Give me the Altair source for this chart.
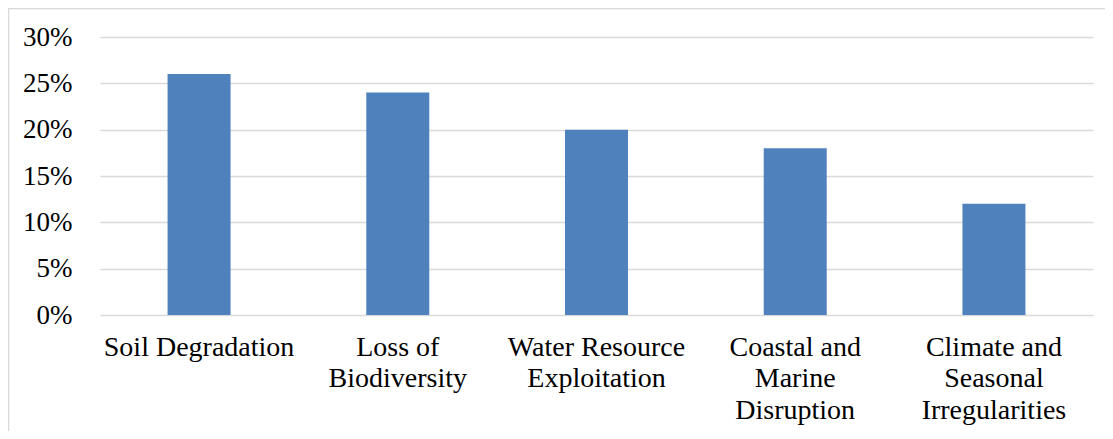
import altair as alt
import pandas as pd

categories = ["Soil Degradation", "Loss of|Biodiversity", "Water Resource|Exploitation",
              "Coastal and|Marine|Disruption", "Climate and|Seasonal|Irregularities"]
values = [0.26, 0.24, 0.20, 0.18, 0.12]
y_ticks = [0, 0.05, 0.10, 0.15, 0.20, 0.25, 0.30]

df = pd.DataFrame({"category": categories, "value": values})

FONT = "Liberation Serif"
W, H = 993, 278

bars = alt.Chart(df).mark_bar(color="#4f81bd").encode(
    x=alt.X("category:N", sort=categories,
            scale=alt.Scale(paddingInner=0.683, paddingOuter=0.34),
            axis=alt.Axis(title=None, labelAngle=0, domain=False, ticks=False, grid=False,
                          labelExpr="split(datum.label, '|')", labelLimit=400,
                          labelFont=FONT, labelFontSize=28, labelColor="#000000",
                          labelPadding=18, labelLineHeight=31.5, labelBaseline="top")),
    y=alt.Y("value:Q", scale=alt.Scale(domain=[0, 0.30], nice=False),
            axis=alt.Axis(title=None, format=".0%", values=y_ticks, domain=False, ticks=False,
                          grid=True, gridColor="#d9d9d9", gridWidth=1.3,
                          labelFont=FONT, labelFontSize=27, labelColor="#000000",
                          labelPadding=28)),
)

frame = alt.Chart(pd.DataFrame({"a": [0]})).mark_rect(
    fill="transparent", stroke="#d9d9d9", strokeWidth=1.5
).encode(x=alt.value(-91.5), x2=alt.value(W + 40), y=alt.value(-28.5), y2=alt.value(H + 200))

chart = alt.layer(frame, bars).properties(
    width=W, height=H,
    background="white",
    autosize=alt.AutoSizeParams(type="none"),
    padding={"left": 92, "top": 29, "right": 12, "bottom": 116},
).configure_view(strokeWidth=0, stroke=None)

chart.save("out.html", embed_options={"renderer": "svg", "actions": False})
